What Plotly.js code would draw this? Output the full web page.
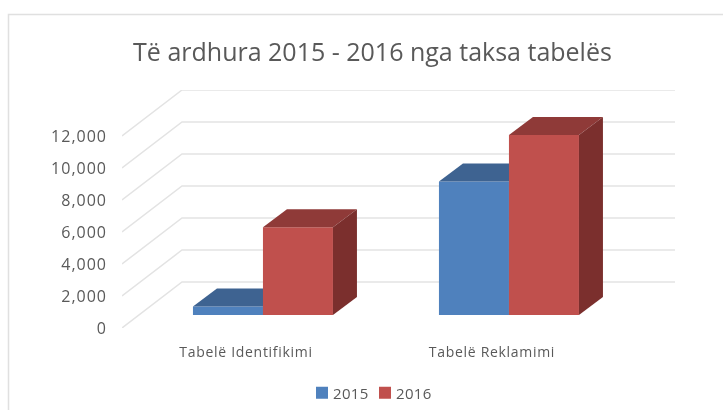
<!DOCTYPE html>
<html><head><meta charset="utf-8">
<script src="https://cdn.plot.ly/plotly-3.0.1.min.js"></script>
<style>html,body{margin:0;padding:0;background:#fff;overflow:hidden}#c{width:723px;height:410px;filter:blur(0.45px)}
#c .ytick text{letter-spacing:1px}#c .xtick text{letter-spacing:.7px}#c .legendtext{letter-spacing:.3px}</style>
</head><body><div id="c"></div>
<script>
const categories = ["Tabelë Identifikimi", "Tabelë Reklamimi"];
const seriesNames = ["2015", "2016"];
const values2015 = [530, 8340];
const values2016 = [5480, 11250];
const yTicks = [0, 2000, 4000, 6000, 8000, 10000, 12000];
const titleText = "Të ardhura 2015 - 2016 nga taksa tabelës";

// plot box in pixels and the pseudo-3D projection
const W = 723, H = 410, L = 122, R = 675, T = 90, B = 328;
const catPx = 246, unitsPerPx = 62.5;
const xRange = [-0.573, 1.675];
const yTop = (B - T) * unitsPerPx;
const barPlane = 13 * unitsPerPx;          // bars stand 13px above the front edge
const yRangeBars = [-barPlane, yTop - barPlane];
const wallDx = 60 / catPx, wallDy = 46 * unitsPerPx;
const barDx = 24 / catPx, barDy = 18 * unitsPerPx;
const barW = 70 / catPx, labelShift = 17 / catPx;

const gridX = [], gridY = [];
yTicks.forEach(v => {
  gridX.push(xRange[0], xRange[0] + wallDx, xRange[1], null);
  gridY.push(v, v + wallDy, v + wallDy, null);
});
const traces = [{
  type: "scatter", mode: "lines", x: gridX, y: gridY, xaxis: "x", yaxis: "y",
  line: { color: "#e3e3e3", width: 1.5 }, showlegend: false, hoverinfo: "skip"
}];

function addSeries(vals, name, offset, front, top, side, ya) {
  traces.push({
    type: "bar", x: categories.map((_, i) => i), y: vals, name: name,
    width: barW, offset: offset, marker: { color: front, line: { width: 0 } },
    xaxis: "x", yaxis: ya
  });
  vals.forEach((v, i) => {
    const a = i + offset, b = a + barW;
    traces.push({
      type: "scatter", mode: "lines", fill: "toself", fillcolor: top, line: { width: 0 },
      x: [a, b, b + barDx, a + barDx, a], y: [v, v, v + barDy, v + barDy, v],
      xaxis: "x", yaxis: ya, showlegend: false, hoverinfo: "skip"
    });
    traces.push({
      type: "scatter", mode: "lines", fill: "toself", fillcolor: side, line: { width: 0 },
      x: [b, b + barDx, b + barDx, b, b], y: [0, barDy, v + barDy, v, 0],
      xaxis: "x", yaxis: ya, showlegend: false, hoverinfo: "skip"
    });
  });
}
addSeries(values2015, seriesNames[0], -barW, "#4f81bd", "#3e6391", "#375a83", "y2");
addSeries(values2016, seriesNames[1], 0, "#c0504d", "#8f3a38", "#7b2f2d", "y3");

const font = "'Open Sans', sans-serif";
const px = v => (v - L) / (R - L), py = v => (B - v) / (B - T);
const layout = {
  width: W, height: H, autosize: false,
  margin: { l: L, r: W - R, t: T, b: H - B, pad: 0 },
  paper_bgcolor: "#fff", plot_bgcolor: "rgba(0,0,0,0)",
  font: { family: font, color: "#595959", size: 14 },
  title: { text: titleText, font: { family: font, size: 25, color: "#595959" },
           x: 372.5 / W, xanchor: "center", y: 1 - 52 / H, yanchor: "middle" },
  barmode: "overlay",
  xaxis: { type: "linear", range: xRange, tickmode: "array",
           tickvals: categories.map((_, i) => i - labelShift), ticktext: categories,
           showgrid: false, zeroline: false, showline: false, ticks: "",
           ticklabelstandoff: 14, tickfont: { size: 14, color: "#595959", family: font } },
  yaxis: { range: [0, yTop], tickmode: "array", tickvals: yTicks, tickformat: ",d",
           showgrid: false, zeroline: false, showline: false, ticks: "",
           ticklabelstandoff: 14, tickfont: { size: 16, color: "#595959", family: font } },
  yaxis2: { range: yRangeBars, overlaying: "y", visible: false },
  yaxis3: { range: yRangeBars, overlaying: "y", visible: false },
  showlegend: true,
  legend: { orientation: "h", xref: "container", yref: "container",
            x: 293 / W, y: 1 - 393 / H, xanchor: "left", yanchor: "middle",
            entrywidth: 18, entrywidthmode: "pixels", itemwidth: 30,
            font: { size: 15, color: "#595959", family: font }, bgcolor: "rgba(0,0,0,0)",
            traceorder: "normal" },
  shapes: [{ type: "rect", xref: "paper", yref: "paper",
             x0: px(8.5), x1: px(740), y0: py(430), y1: py(14.5),
             line: { color: "#e0e0e0", width: 1.5 }, fillcolor: "rgba(0,0,0,0)", layer: "below" }]
};
Plotly.newPlot("c", traces, layout, { staticPlot: true, displayModeBar: false }).then(() => {
  document.querySelectorAll("#c .legend .legendsymbols").forEach(n => {
    n.setAttribute("transform", "translate(9,0)");
  });
  document.querySelectorAll("#c .legend [clip-path]").forEach(n => n.removeAttribute("clip-path"));
  document.querySelectorAll("#c .legend .scrollbox").forEach(n => { n.style.clipPath = "none"; });
});
</script></body></html>
